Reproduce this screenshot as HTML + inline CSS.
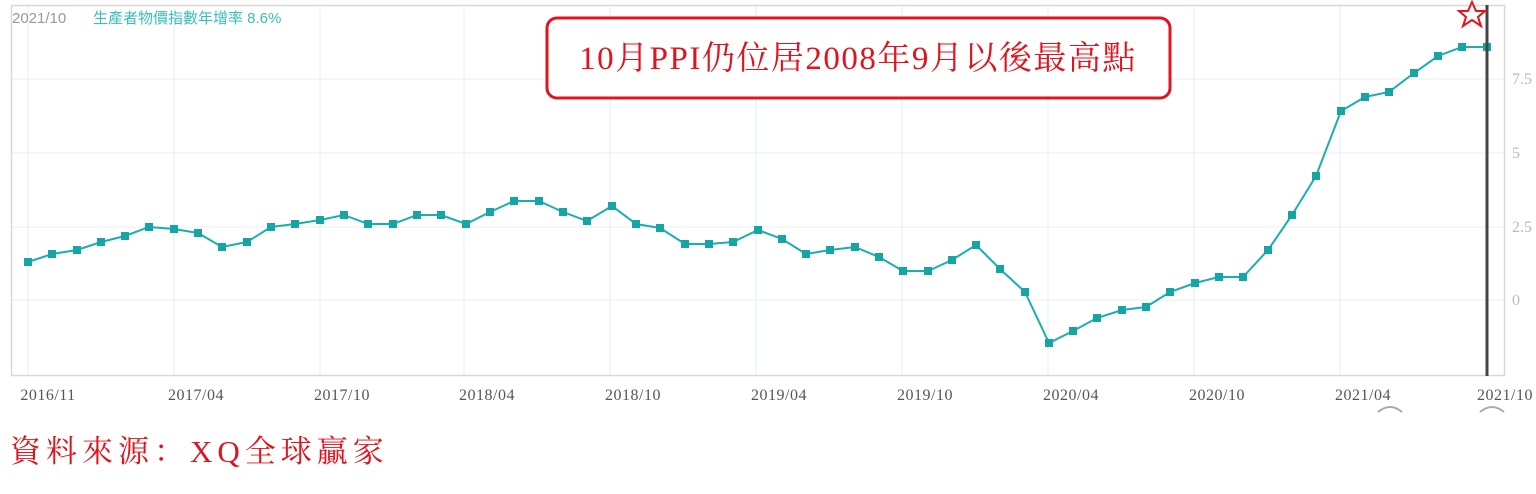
<!DOCTYPE html>
<html><head><meta charset="utf-8"><style>
body{margin:0;width:1536px;height:494px;background:#fff;overflow:hidden;position:relative;font-family:"Liberation Sans","Noto Sans CJK TC",sans-serif}
</style></head><body>
<svg width="1536" height="494" style="position:absolute;left:0;top:0">
<rect x="11.5" y="5.5" width="1493" height="370" fill="none" stroke="#d8d8d8" stroke-width="1.5"/>
<g stroke="#ececec" stroke-width="1">
<line x1="12" y1="79" x2="1504" y2="79"/><line x1="12" y1="153" x2="1504" y2="153"/>
<line x1="12" y1="227" x2="1504" y2="227"/><line x1="12" y1="300" x2="1504" y2="300"/>
</g>
<g stroke="#dcf0f7" stroke-width="1">
<line x1="28" y1="6" x2="28" y2="375"/><line x1="174" y1="6" x2="174" y2="375"/><line x1="320" y1="6" x2="320" y2="375"/><line x1="464" y1="6" x2="464" y2="375"/><line x1="610" y1="6" x2="610" y2="375"/><line x1="756" y1="6" x2="756" y2="375"/><line x1="902" y1="6" x2="902" y2="375"/><line x1="1048" y1="6" x2="1048" y2="375"/><line x1="1194" y1="6" x2="1194" y2="375"/><line x1="1340" y1="6" x2="1340" y2="375"/>
</g>
<g font-family="Liberation Serif,serif" font-size="16" fill="#bbb">
<text x="1512" y="84">7.5</text><text x="1512" y="158">5</text><text x="1512" y="232">2.5</text><text x="1512" y="305">0</text>
</g>
<g font-family="Liberation Serif,serif" font-size="16" fill="#555" text-anchor="middle" letter-spacing="0.5">
<text x="48" y="400">2016/11</text><text x="196" y="400">2017/04</text><text x="342" y="400">2017/10</text><text x="487" y="400">2018/04</text><text x="633" y="400">2018/10</text><text x="779" y="400">2019/04</text><text x="925" y="400">2019/10</text><text x="1071" y="400">2020/04</text><text x="1217" y="400">2020/10</text><text x="1363" y="400">2021/04</text><text x="1505" y="400">2021/10</text>
</g>
<path d="M1378 412 q12 -10 24 0 M1480 412 q12 -10 24 0" fill="none" stroke="#aaa" stroke-width="2"/>
<polyline id="pl" fill="none" stroke="#1aaeae" stroke-width="2" points="28,262 52,254 77,250 101,242 125,236 149,227 174,229 198,233 222,247 247,242 271,227 295,224 320,220 344,215 368,224 393,224 417,215 441,215 466,224 490,212 514,201 539,201 563,212 587,221 612,206 636,224 660,228 685,244 709,244 733,242 758,230 782,239 806,254 830,250 855,247 879,257 903,271 928,271 952,260 976,245 1000,269 1025,292 1049,343 1073,331 1097,318 1122,310 1146,307 1170,292 1195,283 1219,277 1243,277 1268,250 1292,215 1316,176 1341,111 1365,97 1389,92 1414,73 1438,56 1462,47 1487,47"/>
<g id="mk" fill="#15a5a5"></g>
<line x1="1487" y1="5" x2="1487" y2="376" stroke="#444" stroke-width="3"/>
<polygon points="1472,2 1476,11 1485,11 1478,17 1481,26 1472,20 1463,26 1466,17 1459,11 1468,11" fill="#fff" stroke="#e8141c" stroke-width="2"/>
<rect x="547" y="18" width="623" height="80" rx="10" fill="#fff" stroke="#e0141e" stroke-width="3"/>
<text x="858" y="69" text-anchor="middle" font-family="Liberation Serif,'Noto Serif CJK SC',serif" font-size="33" fill="#e0141e" letter-spacing="1.5">10月PPI仍位居2008年9月以後最高點</text>
<text x="12" y="23" font-size="15" fill="#999">2021/10</text>
<text x="93" y="23" font-size="15" fill="#3bbcbc">生產者物價指數年增率 8.6%</text>
<text x="10" y="462" font-family="Liberation Serif,'Noto Serif CJK SC',serif" font-size="31" fill="#e0141e" letter-spacing="5">資料來源：XQ全球贏家</text>
</svg>
<script>
var p=document.getElementById('pl').getAttribute('points').trim().split(/\s+/),g=document.getElementById('mk'),s='';
p.forEach(function(q){var a=q.split(',');s+='<rect x="'+(a[0]-4)+'" y="'+(a[1]-4)+'" width="8" height="8"/>';});
g.innerHTML=s;
</script>
</body></html>
